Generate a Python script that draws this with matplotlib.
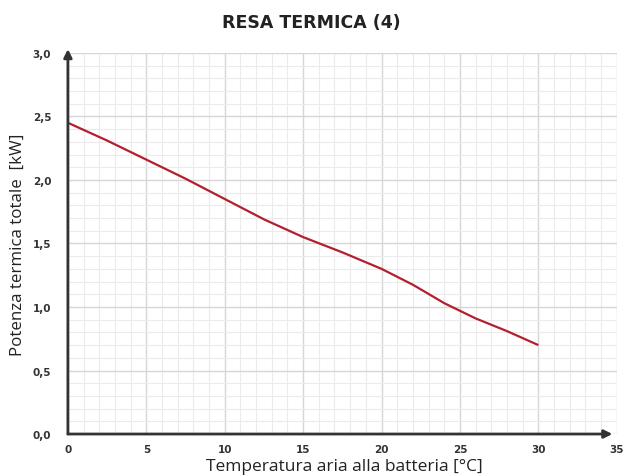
import matplotlib
matplotlib.use('Agg')
import matplotlib.pyplot as plt
import numpy as np

# data
temp = [0, 2.5, 5, 7.5, 10, 12.5, 15, 17.5, 20, 22, 24, 26, 28, 30]
power = [2.45, 2.31, 2.16, 2.01, 1.85, 1.69, 1.55, 1.43, 1.30, 1.175, 1.03, 0.91, 0.81, 0.70]
x_ticks = [0, 5, 10, 15, 20, 25, 30, 35]
y_ticks = [0.0, 0.5, 1.0, 1.5, 2.0, 2.5, 3.0]

fig = plt.figure(figsize=(6.23, 4.77), dpi=100)
ax = fig.add_axes([0.109, 0.088, 0.881, 0.799])
ax.set_xlim(0, 35)
ax.set_ylim(0, 3.0)

ax.set_xticks(x_ticks)
ax.set_yticks(y_ticks)
ax.set_xticks(np.arange(0, 35.1, 1), minor=True)
ax.set_yticks(np.arange(0, 3.01, 0.1), minor=True)
ax.set_xticklabels([str(t) for t in x_ticks])
ax.set_yticklabels(['{:.1f}'.format(t).replace('.', ',') for t in y_ticks])
ax.grid(which='major', color='#d6d6d6', linewidth=1.0)
ax.grid(which='minor', color='#ebebeb', linewidth=0.8)
ax.set_axisbelow(True)
ax.tick_params(which='both', length=0)
ax.tick_params(axis='x', pad=7, labelsize=7.5, colors='#333333')
ax.tick_params(axis='y', pad=12, labelsize=7.5, colors='#333333')
for lab in ax.get_xticklabels() + ax.get_yticklabels():
    lab.set_fontweight('bold')
    lab.set_fontfamily('DejaVu Sans')

for s in ax.spines.values():
    s.set_visible(False)

# axis arrows
arrow = dict(arrowstyle='-|>', color='#333333', lw=2, mutation_scale=12, shrinkA=0, shrinkB=0)
ax.annotate('', xy=(0.992, 0), xytext=(0, 0), xycoords='axes fraction', arrowprops=arrow, clip_on=False)
ax.annotate('', xy=(0, 1.01), xytext=(0, 0), xycoords='axes fraction', arrowprops=arrow, clip_on=False)

ax.plot(temp, power, color='#b3202d', linewidth=1.6, solid_capstyle='butt')

fig.text(0.553, 0.021, 'Temperatura aria alla batteria [°C]', ha='center', va='center',
         fontsize=12.5, family='Open Sans', color='#222222')
ax.set_ylabel('Potenza termica totale  [kW]', fontsize=12.2, family='Open Sans', color='#222222', labelpad=5)
fig.text(0.5, 0.952, 'RESA TERMICA (4)', ha='center', va='center', fontsize=12.5,
         fontweight='bold', family='DejaVu Sans', color='#222222')

fig.savefig('out.png', dpi=100)
